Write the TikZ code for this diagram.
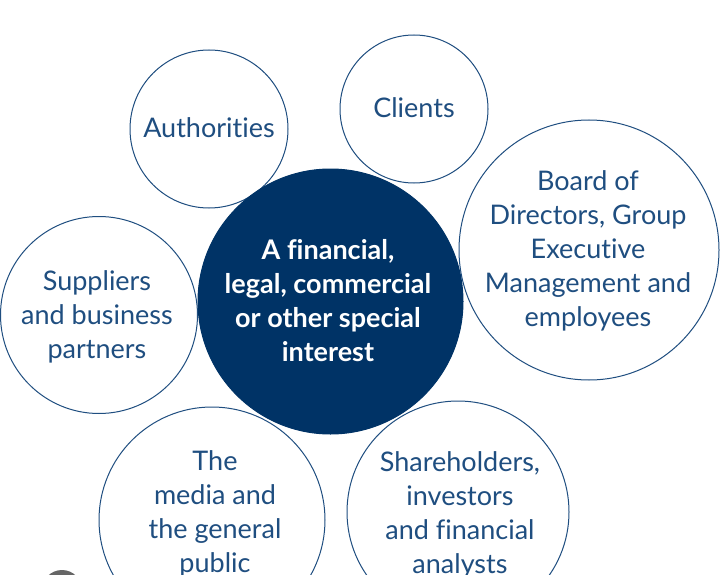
\documentclass[tikz,border=0pt]{standalone}
\usepackage{fontspec}
\setmainfont{Lato}[Ligatures=NoCommon]
\definecolor{navy}{HTML}{003366}
\definecolor{ringblue}{HTML}{1F4E80}
\begin{document}
\begin{tikzpicture}[x=1pt, y=-1pt,
    main/.style = {draw=ringblue, circle, inner sep=0pt, line width=1pt},
    txt/.style = {text=ringblue, align=center, inner sep=0pt, font=\fontsize{27}{34}\selectfont}]
    \useasboundingbox (0,0) rectangle (720,575);
    \fill[white] (0,0) rectangle (720,575);
    \begin{scope}
    \clip (0,0) rectangle (720,575);
    \node[circle, fill=black!60, minimum size=40pt] (dot) at (62,590) {};
    \node[main, minimum size=158pt] (authorities) at (209,129) {};
    \node[main, minimum size=148pt] (clients) at (414,109) {};
    \node[main, minimum size=260pt] (board) at (589,250) {};
    \node[main, minimum size=197pt] (suppliers) at (99,315) {};
    \node[main, minimum size=226pt] (media) at (212,520) {};
    \node[main, minimum size=222pt] (shareholders) at (458,512) {};
    \node[main, draw=navy, fill=navy, minimum size=265pt] (interest) at (330.5,301.5) {};
    \node[txt] (authoritiestext) at (209,128) {Authorities};
    \node[txt] (clientstext) at (414,108) {Clients};
    \node[txt] (boardtext) at (588,251) {Board of\\Directors, Group\\Executive\\Management and\\employees};
    \node[txt] (supplierstext) at (97,317) {Suppliers\\and business\\partners};
    \node[txt] (mediatext) at (215,514) {The\\media and\\the general\\public};
    \node[txt] (shareholderstext) at (460,515) {Shareholders,\\investors\\and financial\\analysts};
    \node[txt, text=white, font=\bfseries\fontsize{27}{34}\selectfont] (interesttext) at (328,301) {A financial,\\legal, commercial\\or other special\\interest};
    \end{scope}
\end{tikzpicture}
\end{document}
